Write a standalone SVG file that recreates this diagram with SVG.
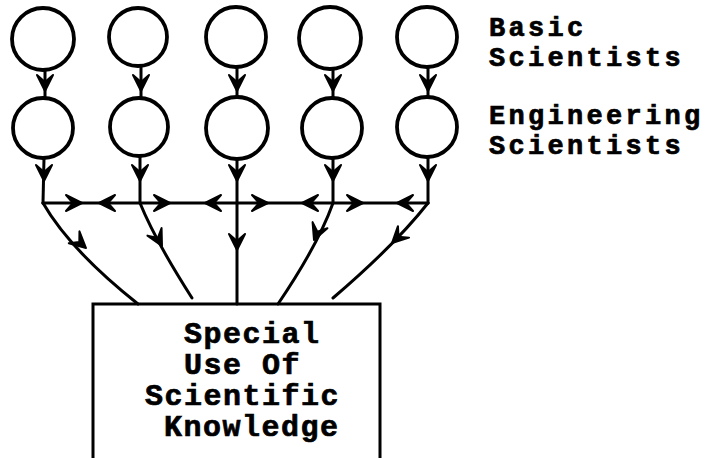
<svg xmlns="http://www.w3.org/2000/svg" width="716" height="458" viewBox="0 0 716 458">
  <style>
    .node circle { fill: none; stroke: #000; stroke-width: 3.8; }
    .edge { fill: none; stroke: #000; stroke-width: 3; stroke-linecap: round; }
    .box { fill: none; stroke: #000; stroke-width: 3; }
    .tt { font-family: "Liberation Mono", "Courier New", monospace; font-weight: bold; font-size: 30px; letter-spacing: 1.5px; fill: #000; stroke: #000; stroke-width: 0.7; }
    .lbl { font-size: 27px; letter-spacing: 3.3px; }
  </style>
  <defs>
    <!-- barbed arrowhead, tip at origin, pointing along +x -->
    <path id="ah" d="M0,0 L-16,-8 L-9,0 L-16,8 Z" fill="#000" stroke="#000" stroke-width="2" stroke-linejoin="round"/>
  </defs>
  <rect width="716" height="458" fill="#fff"/>

  <!-- basic scientists -->
  <g id="basic1" class="node"><circle cx="43" cy="39" r="31"/></g>
  <g id="basic2" class="node"><circle cx="138" cy="37" r="29"/></g>
  <g id="basic3" class="node"><circle cx="236" cy="37" r="30"/></g>
  <g id="basic4" class="node"><circle cx="330" cy="38" r="31"/></g>
  <g id="basic5" class="node"><circle cx="427" cy="37" r="30"/></g>

  <!-- engineering scientists -->
  <g id="eng1" class="node"><circle cx="43" cy="128" r="30"/></g>
  <g id="eng2" class="node"><circle cx="139" cy="127" r="29"/></g>
  <g id="eng3" class="node"><circle cx="237" cy="128" r="31"/></g>
  <g id="eng4" class="node"><circle cx="332" cy="128" r="30"/></g>
  <g id="eng5" class="node"><circle cx="427" cy="127" r="30"/></g>

  <!-- row labels -->
  <g id="label-basic">
    <text class="tt lbl" x="489" y="36">Basic</text>
    <text class="tt lbl" x="489" y="66">Scientists</text>
  </g>
  <g id="label-eng">
    <text class="tt lbl" x="489" y="124">Engineering</text>
    <text class="tt lbl" x="489" y="154">Scientists</text>
  </g>

  <!-- application box -->
  <g id="application">
    <path class="box" d="M93,460 L93,304 L380,304 L380,460"/>
    <text class="tt" x="184" y="343">Special</text>
    <text class="tt" x="184" y="374">Use Of</text>
    <text class="tt" x="145" y="405">Scientific</text>
    <text class="tt" x="164" y="436">Knowledge</text>
  </g>

  <g id="connectors">
    <!-- basic to engineering -->
    <path class="edge" d="M45,70 L45,98"/>
    <path class="edge" d="M141,66 L141,98"/>
    <path class="edge" d="M237,67 L237,97"/>
    <path class="edge" d="M333,69 L333,98"/>
    <path class="edge" d="M428,67 L428,97"/>
    <use href="#ah" transform="translate(45,91) rotate(90)"/>
    <use href="#ah" transform="translate(141,91) rotate(90)"/>
    <use href="#ah" transform="translate(237,91) rotate(90)"/>
    <use href="#ah" transform="translate(333,91) rotate(90)"/>
    <use href="#ah" transform="translate(428,91) rotate(90)"/>

    <!-- engineering down to exchange line -->
    <path class="edge" d="M44,158 L43,203"/>
    <path class="edge" d="M140,156 L140,203"/>
    <path class="edge" d="M237,159 L237,203"/>
    <path class="edge" d="M333,158 L333,203"/>
    <path class="edge" d="M428,157 L428,203"/>
    <use href="#ah" transform="translate(44,181) rotate(90)"/>
    <use href="#ah" transform="translate(140,181) rotate(90)"/>
    <use href="#ah" transform="translate(237,181) rotate(90)"/>
    <use href="#ah" transform="translate(333,181) rotate(90)"/>
    <use href="#ah" transform="translate(428,181) rotate(90)"/>

    <!-- exchange line with two-way arrows -->
    <path class="edge" d="M43,203 L428,203"/>
    <use href="#ah" transform="translate(82,203)"/>
    <use href="#ah" transform="translate(99,203) rotate(180)"/>
    <use href="#ah" transform="translate(170,203)"/>
    <use href="#ah" transform="translate(205,203) rotate(180)"/>
    <use href="#ah" transform="translate(268,203)"/>
    <use href="#ah" transform="translate(302,203) rotate(180)"/>
    <use href="#ah" transform="translate(363,203)"/>
    <use href="#ah" transform="translate(397,203) rotate(180)"/>

    <!-- converging flows into the box -->
    <path class="edge" d="M43,203 Q70,250 138,304"/>
    <path class="edge" d="M140,203 Q155,240 192,298"/>
    <path class="edge" d="M237,203 L237,304"/>
    <path class="edge" d="M333,203 Q318,245 278,304"/>
    <path class="edge" d="M428,203 Q395,245 333,298"/>
    <use href="#ah" transform="translate(86,248) rotate(42)"/>
    <use href="#ah" transform="translate(162,246) rotate(62)"/>
    <use href="#ah" transform="translate(237,250) rotate(90)"/>
    <use href="#ah" transform="translate(314,240) rotate(112)"/>
    <use href="#ah" transform="translate(392,243) rotate(136)"/>
  </g>
</svg>
